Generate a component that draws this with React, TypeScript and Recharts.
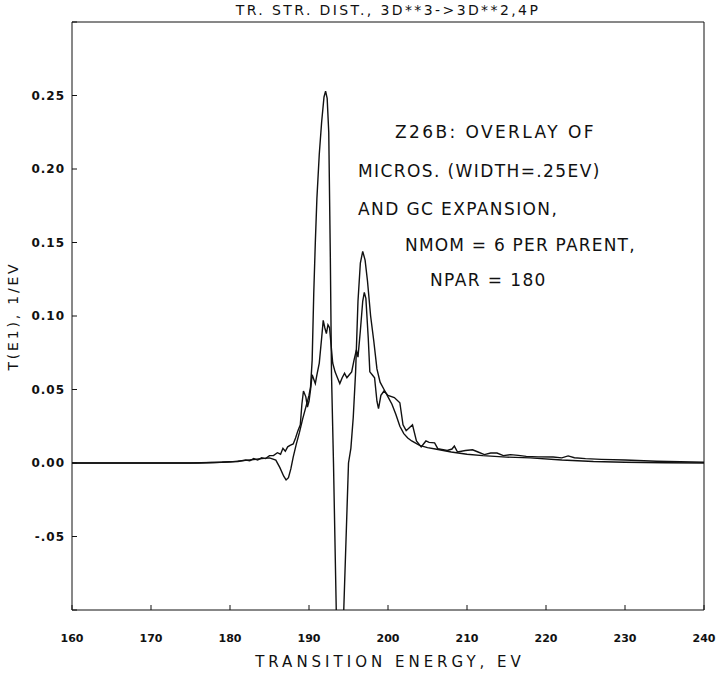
import { LineChart, Line, XAxis, YAxis } from "recharts";

// GC expansion (smooth, oscillating) and micros (width .25 eV)
const gcEnergy = [
  160, 170, 176, 178, 180, 182, 184, 185, 185.8, 186.3, 186.8, 187.1, 187.4, 187.7, 188.0, 188.4, 188.8,
  189.2, 189.6, 190.0, 190.2, 190.4, 190.6, 190.8, 191.0, 191.3, 191.6, 191.9, 192.1, 192.3, 192.5, 192.7,
  192.85, 193.1, 193.8, 195.0, 195.3, 195.6, 195.9, 196.2, 196.5, 196.8, 197.1, 197.4, 197.8, 198.2, 198.6,
  199.0, 199.5, 200.0, 200.5, 201.0, 201.5, 202.0, 202.5, 203.0, 204.0, 205.0, 206.0, 208.0, 210.0, 212.0,
  215.0, 218.0, 222.0, 226.0, 230.0, 235.0, 240.0,
];
const gcValue = [
  0, 0, 0, 0.0003, 0.0008, 0.0018, 0.003, 0.0035, 0.002, -0.003, -0.009, -0.0115, -0.01, -0.004, 0.004,
  0.013, 0.021, 0.03, 0.038, 0.046, 0.052, 0.07, 0.115, 0.15, 0.18, 0.21, 0.232, 0.249, 0.253, 0.248, 0.225,
  0.14, 0.06, 0.0, -0.2, 0.0, 0.01, 0.031, 0.062, 0.11, 0.136, 0.144, 0.138, 0.124, 0.1, 0.083, 0.064,
  0.055, 0.05, 0.045, 0.04, 0.033, 0.025, 0.02, 0.017, 0.015, 0.012, 0.0105, 0.0095, 0.0075, 0.006, 0.005,
  0.004, 0.0035, 0.002, 0.001, 0.0005, 0.0002, 0,
];

const microEnergy = [
  160, 175, 179, 181, 182, 182.5, 183, 183.5, 184, 184.5, 185, 185.5, 186, 186.4, 186.7, 187.0, 187.3, 187.6,
  188.0, 188.3, 188.6, 188.9, 189.1, 189.3, 189.6, 189.8, 190.0, 190.2, 190.4, 190.6, 190.8, 191.0, 191.3,
  191.6, 191.8, 192.0, 192.2, 192.4, 192.6, 192.8, 193.0, 193.3, 193.6, 193.9, 194.2, 194.5, 194.8, 195.1,
  195.4, 195.7, 196.0, 196.2, 196.5, 196.8, 197.0, 197.2, 197.5, 197.7, 198.0, 198.3, 198.6, 198.8, 199.1,
  199.5, 200.0, 200.8, 201.5, 201.9, 202.3, 202.7, 203.1, 203.6, 204.2, 204.8, 205.2, 205.9, 206.3, 207.5,
  208.1, 208.4, 208.8, 209.8, 210.7, 211.4, 212.2, 213.0, 213.8, 214.6, 215.5, 216.5, 217.5, 219.0, 220.9,
  222.0, 222.8, 223.6, 225.0, 227.0, 230.0, 234.0, 240.0,
];
const microValue = [
  0, 0, 0.0005, 0.001, 0.002, 0.0015, 0.003, 0.002, 0.0035, 0.003, 0.005, 0.005, 0.007, 0.006, 0.01, 0.008,
  0.011, 0.012, 0.013, 0.017, 0.022, 0.026, 0.04, 0.049, 0.045, 0.038, 0.042, 0.05, 0.06, 0.057, 0.054, 0.06,
  0.068, 0.085, 0.097, 0.092, 0.088, 0.094, 0.092, 0.08, 0.068, 0.062, 0.058, 0.054, 0.058, 0.061, 0.058, 0.06,
  0.062, 0.07, 0.077, 0.072, 0.09, 0.11, 0.116, 0.112, 0.085, 0.062, 0.06, 0.058, 0.042, 0.037, 0.046,
  0.049, 0.046, 0.0445, 0.041, 0.026, 0.022, 0.024, 0.026, 0.015, 0.011, 0.015, 0.014, 0.0137, 0.0098, 0.0085,
  0.0095, 0.0115, 0.0075, 0.0085, 0.009, 0.0075, 0.0057, 0.0068, 0.0068, 0.005, 0.0057, 0.0052, 0.0045, 0.0042, 0.0041,
  0.0035, 0.0048, 0.0036, 0.003, 0.0025, 0.002, 0.0012, 0.0005,
];

const xTicks = [160, 170, 180, 190, 200, 210, 220, 230, 240];
const yTicks = [-0.1, -0.05, 0, 0.05, 0.1, 0.15, 0.2, 0.25, 0.3];

const notes = [
  { text: "Z26B: OVERLAY OF", x: 395, y: 133, ls: 2.4 },
  { text: "MICROS. (WIDTH=.25EV)", x: 358, y: 172, ls: 1.4 },
  { text: "AND GC EXPANSION,", x: 358, y: 210, ls: 1.4 },
  { text: "NMOM = 6 PER PARENT,", x: 405, y: 246, ls: 1.2 },
  { text: "NPAR = 180", x: 430, y: 281, ls: 1.4 },
];

const gcData = gcEnergy.map((x, i) => ({ x, y: gcValue[i] }));
const microData = microEnergy.map((x, i) => ({ x, y: microValue[i] }));

function formatY(v: number) {
  if (v <= -0.099 || v >= 0.299) return "";
  if (v < 0) return "-" + Math.abs(v).toFixed(2).slice(1);
  return v.toFixed(2);
}

const font = "'DejaVu Sans', sans-serif";
const ink = "#111";
const xTickStyle = { fill: ink, fontSize: 11, fontFamily: font, fontWeight: 600 };
const yTickStyle = { fill: ink, fontSize: 12, fontFamily: font, fontWeight: 600, letterSpacing: 1 };

export default function App() {
  return (
    <div style={{ position: "absolute", left: 0, top: 0, width: 716, height: 674, background: "#fff" }}>
      <LineChart width={716} height={674} margin={{ top: 21, right: 11, left: 12, bottom: 14 }}>
        <XAxis
          type="number"
          dataKey="x"
          domain={[160, 240]}
          ticks={xTicks}
          height={50}
          tickSize={-5}
          tickMargin={29}
          stroke={ink}
          tick={xTickStyle}
          allowDataOverflow
        />
        <XAxis
          xAxisId="top"
          orientation="top"
          type="number"
          dataKey="x"
          domain={[160, 240]}
          ticks={xTicks}
          height={1}
          tickSize={-5}
          tick={false}
          stroke={ink}
        />
        <YAxis
          type="number"
          domain={[-0.1, 0.3]}
          ticks={yTicks}
          width={60}
          tickSize={-5}
          tickMargin={12}
          tickFormatter={formatY}
          stroke={ink}
          tick={yTickStyle}
          allowDataOverflow
        />
        <YAxis
          yAxisId="right"
          orientation="right"
          type="number"
          domain={[-0.1, 0.3]}
          ticks={yTicks}
          width={1}
          tickSize={-5}
          tick={false}
          stroke={ink}
        />
        <Line
          data={gcData}
          dataKey="y"
          type="linear"
          stroke={ink}
          strokeWidth={1.4}
          dot={false}
          isAnimationActive={false}
        />
        <Line
          data={microData}
          dataKey="y"
          type="linear"
          stroke={ink}
          strokeWidth={1.4}
          dot={false}
          isAnimationActive={false}
        />
      </LineChart>
      <div
        style={{
          position: "absolute",
          left: 0,
          width: 776,
          top: 2,
          textAlign: "center",
          fontFamily: font,
          fontSize: 14,
          letterSpacing: 2.4,
          color: ink,
        }}
      >
        TR. STR. DIST., 3D**3-&gt;3D**2,4P
      </div>
      <div
        style={{
          position: "absolute",
          left: 72,
          width: 636,
          top: 653,
          textAlign: "center",
          fontFamily: font,
          fontSize: 15,
          letterSpacing: 4,
          color: ink,
        }}
      >
        TRANSITION ENERGY, EV
      </div>
      <div
        style={{
          position: "absolute",
          left: 13,
          top: 316,
          transform: "translate(-50%, -50%) rotate(-90deg)",
          whiteSpace: "nowrap",
          fontFamily: font,
          fontSize: 14,
          letterSpacing: 2.8,
          color: ink,
        }}
      >
        T(E1), 1/EV
      </div>
      {notes.map((n) => (
        <div
          key={n.text}
          style={{
            position: "absolute",
            left: n.x,
            top: n.y - 11,
            whiteSpace: "pre",
            fontFamily: font,
            fontSize: 17,
            letterSpacing: n.ls,
            color: ink,
          }}
        >
          {n.text}
        </div>
      ))}
    </div>
  );
}
